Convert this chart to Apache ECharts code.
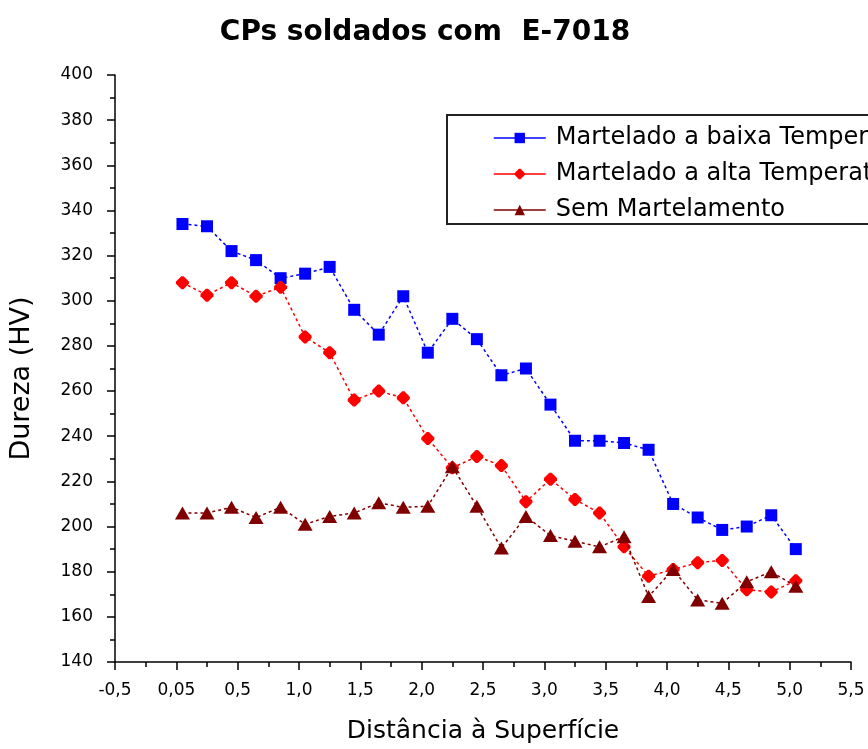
<!DOCTYPE html>
<html>
<head>
<meta charset="utf-8">
<script src="https://cdn.jsdelivr.net/npm/echarts@6/dist/echarts.min.js"></script>
<style>
  html, body { margin: 0; padding: 0; background: #ffffff; }
  #chart { width: 868px; height: 749px; }
</style>
</head>
<body>
<div id="chart"></div>
<script>
// Texts
const titleText = 'CPs soldados com  E-7018';
const xAxisName = 'Distância à Superfície';
const yAxisName = 'Dureza (HV)';
const seriesNames = ['Martelado a baixa Temperatura', 'Martelado a alta Temperatura', 'Sem Martelamento'];

// Distance from surface (mm) at each hardness reading
const distance = [0.05, 0.25, 0.45, 0.65, 0.85, 1.05, 1.25, 1.45, 1.65, 1.85, 2.05, 2.25, 2.45,
                  2.65, 2.85, 3.05, 3.25, 3.45, 3.65, 3.85, 4.05, 4.25, 4.45, 4.65, 4.85, 5.05];

// Hardness (HV)
const baixaTemperatura = [334, 333, 322, 318, 310, 312, 315, 296, 285, 302, 277, 292, 283,
                          267, 270, 254, 238, 238, 237, 234, 210, 204, 198.5, 200, 205, 190];
const altaTemperatura = [308, 302.5, 308, 302, 306, 284, 277, 256, 260, 257, 239, 226, 231,
                         227, 211, 221, 212, 206, 191, 178, 181, 184, 185, 172, 171, 176];
const semMartelamento = [206, 206, 208.5, 204, 208.5, 201, 204.5, 206, 210.5, 208.5, 209, 226.5, 209,
                         190.5, 204.5, 196, 193.5, 191, 195.5, 169, 181, 167.5, 166, 175.5, 180, 173.5];

// Axis ticks
const xTickLabels = ['-0,5', '0,05', '0,5', '1,0', '1,5', '2,0', '2,5', '3,0', '3,5', '4,0', '4,5', '5,0', '5,5'];
const xMin = -0.5, xMax = 5.5, xStep = 0.5;
const yMin = 140, yMax = 400, yStep = 20;

const FONT = 'DejaVu Sans';
const pairs = (ys) => distance.map((x, i) => [x, ys[i]]);

const chart = echarts.init(document.getElementById('chart'), null, { renderer: 'canvas' });

const axisCommon = {
  axisLine: { show: true, onZero: false, lineStyle: { color: '#000', width: 1.5 } },
  axisTick: { show: true, inside: false, length: 8, lineStyle: { color: '#000', width: 1.5 } },
  minorTick: { show: true, splitNumber: 2, length: 5, lineStyle: { color: '#000', width: 1.5 } },
  splitLine: { show: false },
  minorSplitLine: { show: false }
};

const option = {
  backgroundColor: '#ffffff',
  animation: false,
  title: {
    text: titleText,
    left: 420,
    textAlign: 'center',
    top: 14,
    textStyle: { fontFamily: FONT, fontWeight: 'bold', fontSize: 28, color: '#000' }
  },
  grid: { left: 113, right: 17, top: 75, bottom: 87, containLabel: false },
  legend: {
    orient: 'vertical',
    left: 493,
    top: 126,
    padding: 0,
    itemWidth: 52,
    itemHeight: 13,
    itemGap: 12,
    selectedMode: false,
    lineStyle: { type: 'solid', width: 1.5 },
    textStyle: { fontFamily: FONT, fontSize: 24, lineHeight: 24, color: '#000', padding: [0, 0, 0, 5] },
    data: seriesNames
  },
  xAxis: Object.assign({}, axisCommon, {
    type: 'value',
    min: xMin,
    max: xMax,
    interval: xStep,
    name: xAxisName,
    nameLocation: 'middle',
    nameGap: 57,
    nameTextStyle: { fontFamily: FONT, fontSize: 25, color: '#000' },
    axisLabel: {
      margin: 20,
      fontFamily: FONT,
      fontSize: 17,
      color: '#000',
      formatter: (v) => xTickLabels[Math.round((v - xMin) / xStep)]
    }
  }),
  yAxis: Object.assign({}, axisCommon, {
    type: 'value',
    min: yMin,
    max: yMax,
    interval: yStep,
    name: yAxisName,
    nameLocation: 'middle',
    nameGap: 80,
    nameRotate: 90,
    nameTextStyle: { fontFamily: FONT, fontSize: 27, color: '#000', padding: [0, 20, 0, 0] },
    axisLabel: { margin: 22, fontFamily: FONT, fontSize: 17, color: '#000' }
  }),
  graphic: [{
    type: 'rect',
    z: 0,
    shape: { x: 447, y: 115, width: 520, height: 109 },
    style: { fill: '#ffffff', stroke: '#222222', lineWidth: 2 }
  }],
  series: [
    {
      name: seriesNames[0],
      type: 'line',
      data: pairs(baixaTemperatura),
      symbol: 'rect',
      symbolSize: 12,
      itemStyle: { color: '#0000ff' },
      lineStyle: { color: '#0000ff', width: 1.5, type: [3, 3] },
      z: 3
    },
    {
      name: seriesNames[1],
      type: 'line',
      data: pairs(altaTemperatura),
      symbol: 'path://M5,0 L7,0 L12,5 L12,7 L7,12 L5,12 L0,7 L0,5 Z',
      symbolSize: 13,
      itemStyle: { color: '#ff0000' },
      lineStyle: { color: '#ff0000', width: 1.5, type: [3, 3] },
      z: 4
    },
    {
      name: seriesNames[2],
      type: 'line',
      data: pairs(semMartelamento),
      symbol: 'triangle',
      symbolSize: [15, 13],
      itemStyle: { color: '#800000' },
      lineStyle: { color: '#800000', width: 1.5, type: [3, 3] },
      z: 5
    }
  ]
};

chart.setOption(option);
</script>
</body>
</html>
